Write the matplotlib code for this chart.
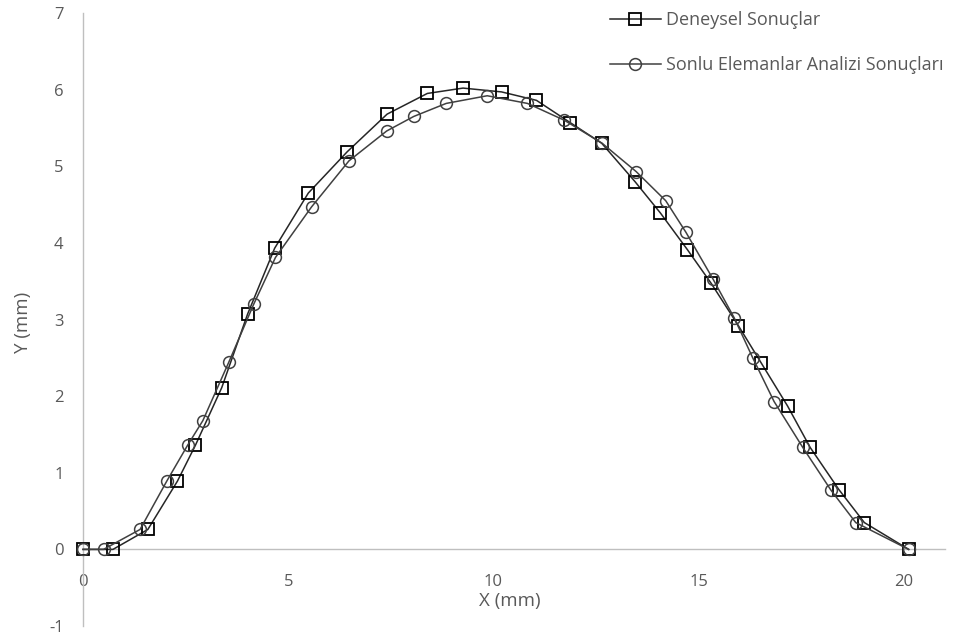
import matplotlib
matplotlib.use('Agg')
import matplotlib.pyplot as plt

# Deneysel (experimental) results
x_exp = [0, 0.73, 1.58, 2.3, 2.74, 3.38, 4.01, 4.67, 5.49, 6.44, 7.41, 8.39, 9.26,
         10.2, 11.05, 11.87, 12.64, 13.45, 14.07, 14.73, 15.31, 15.97, 16.53,
         17.17, 17.72, 18.42, 19.04, 20.12]
y_exp = [0, 0, 0.26, 0.89, 1.36, 2.11, 3.07, 3.93, 4.65, 5.19, 5.68, 5.95, 6.02,
         5.97, 5.86, 5.57, 5.3, 4.8, 4.39, 3.91, 3.47, 2.92, 2.43,
         1.87, 1.33, 0.78, 0.35, 0]

# Sonlu elemanlar (FEA) results
x_fea = [0, 0.5, 1.39, 2.04, 2.55, 2.92, 3.55, 4.16, 4.69, 5.57, 6.48, 7.4, 8.06,
         8.85, 9.85, 10.83, 11.73, 12.65, 13.48, 14.2, 14.69, 15.35, 15.87,
         16.32, 16.84, 17.54, 18.23, 18.83, 20.12]
y_fea = [0, 0, 0.26, 0.89, 1.36, 1.68, 2.44, 3.2, 3.81, 4.47, 5.07, 5.46, 5.65,
         5.82, 5.92, 5.82, 5.6, 5.3, 4.93, 4.55, 4.14, 3.53, 3.02,
         2.5, 1.93, 1.33, 0.77, 0.35, 0]

labels = ['Deneysel Sonuçlar', 'Sonlu Elemanlar Analizi Sonuçları']

plt.rcParams['font.family'] = ['Open Sans', 'DejaVu Sans']
plt.rcParams['axes.unicode_minus'] = False
grey = '#595959'

fig = plt.figure(figsize=(9.72, 6.43), dpi=100)
ax = fig.add_axes([0.0854, 0.0264, 0.8866, 0.9534])

ax.plot(x_exp, y_exp, color='#262626', lw=1.1, marker='s', ms=8.5,
        mfc='none', mec='black', mew=1.3, label=labels[0], clip_on=False, zorder=3)
ax.plot(x_fea, y_fea, color='#404040', lw=1.1, marker='o', ms=8.5,
        mfc='none', mec='#404040', mew=1.1, label=labels[1], clip_on=False, zorder=3)

ax.set_xlim(0, 21)
ax.set_ylim(-1, 7)
ax.set_xticks([0, 5, 10, 15, 20])
ax.set_yticks(range(-1, 8))

for s in ['top', 'right']:
    ax.spines[s].set_visible(False)
ax.spines['bottom'].set_position(('data', 0))
for s in ['left', 'bottom']:
    ax.spines[s].set_color('#bfbfbf')
    ax.spines[s].set_linewidth(1)
ax.tick_params(length=0, labelsize=12, labelcolor=grey)
ax.tick_params(axis='x', pad=18)
ax.tick_params(axis='y', pad=14)

fig.text(0.525, 0.066, 'X (mm)', ha='center', va='center', fontsize=13.5, color=grey)
fig.text(0.024, 0.499, 'Y (mm)', ha='center', va='center', fontsize=13.5,
         color=grey, rotation=90)

ax.legend(loc='upper left', bbox_to_anchor=(0.6276, 0.983),
          bbox_transform=fig.transFigure, frameon=False, borderpad=0,
          borderaxespad=0, fontsize=13, labelcolor=grey, handlelength=2.8,
          handletextpad=0.28, labelspacing=1.5)

fig.savefig('out.png', dpi=100)
